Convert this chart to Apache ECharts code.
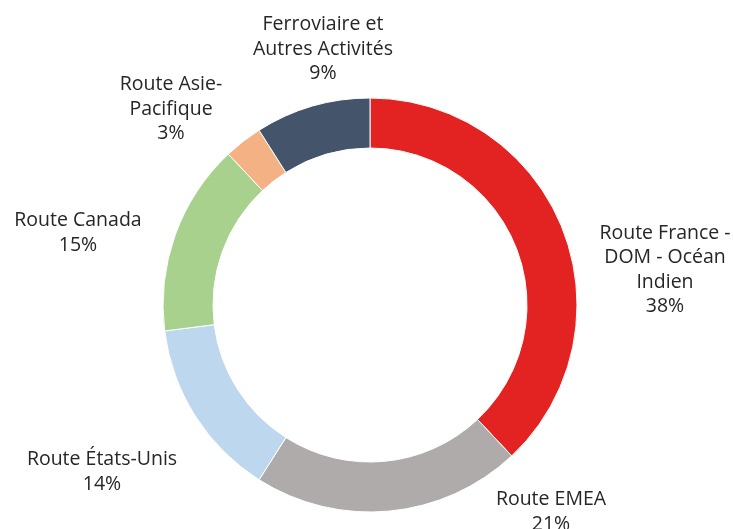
<!DOCTYPE html>
<html>
<head>
<meta charset="utf-8">
<script src="https://cdn.jsdelivr.net/npm/echarts@6/dist/echarts.min.js"></script>
<style>
  html, body { margin: 0; padding: 0; background: #fff; }
  #chart { width: 733px; height: 529px; }
</style>
</head>
<body>
<div id="chart"></div>
<script>
// segments, clockwise from 12 o'clock
const categories = [
  'Route France -\nDOM - Océan\nIndien',
  'Route EMEA',
  'Route États-Unis',
  'Route Canada',
  'Route Asie-\nPacifique',
  'Ferroviaire et\nAutres Activités'
]
const shares = [38, 21, 14, 15, 3, 9]

const colors = ['#E32322', '#AFABAA', '#BDD7EE', '#A9D18E', '#F4B183', '#44546A']
// label centres, placed by hand like in the original
const labelSpots = [
  [665, 270],
  [551, 512],
  [102, 472],
  [78, 233],
  [171, 109],
  [323, 49]
]

const chart = echarts.init(document.getElementById('chart'))

chart.setOption({
  animation: false,
  color: colors,
  series: [{
    type: 'pie',
    center: [370, 305],
    radius: [157, 207],
    startAngle: 90,
    clockwise: true,
    avoidLabelOverlap: false,
    itemStyle: { borderColor: '#fff', borderWidth: 1 },
    label: {
      show: true,
      formatter: p => p.name + '\n' + p.value + '%',
      fontFamily: 'Open Sans',
      fontSize: 19.5,
      lineHeight: 24.5,
      color: '#262626',
      align: 'center'
    },
    labelLine: { show: false },
    labelLayout: params => ({
      x: labelSpots[params.dataIndex][0],
      y: labelSpots[params.dataIndex][1],
      align: 'center',
      verticalAlign: 'middle'
    }),
    data: categories.map((c, i) => ({ name: c, value: shares[i] }))
  }]
})
</script>
</body>
</html>
